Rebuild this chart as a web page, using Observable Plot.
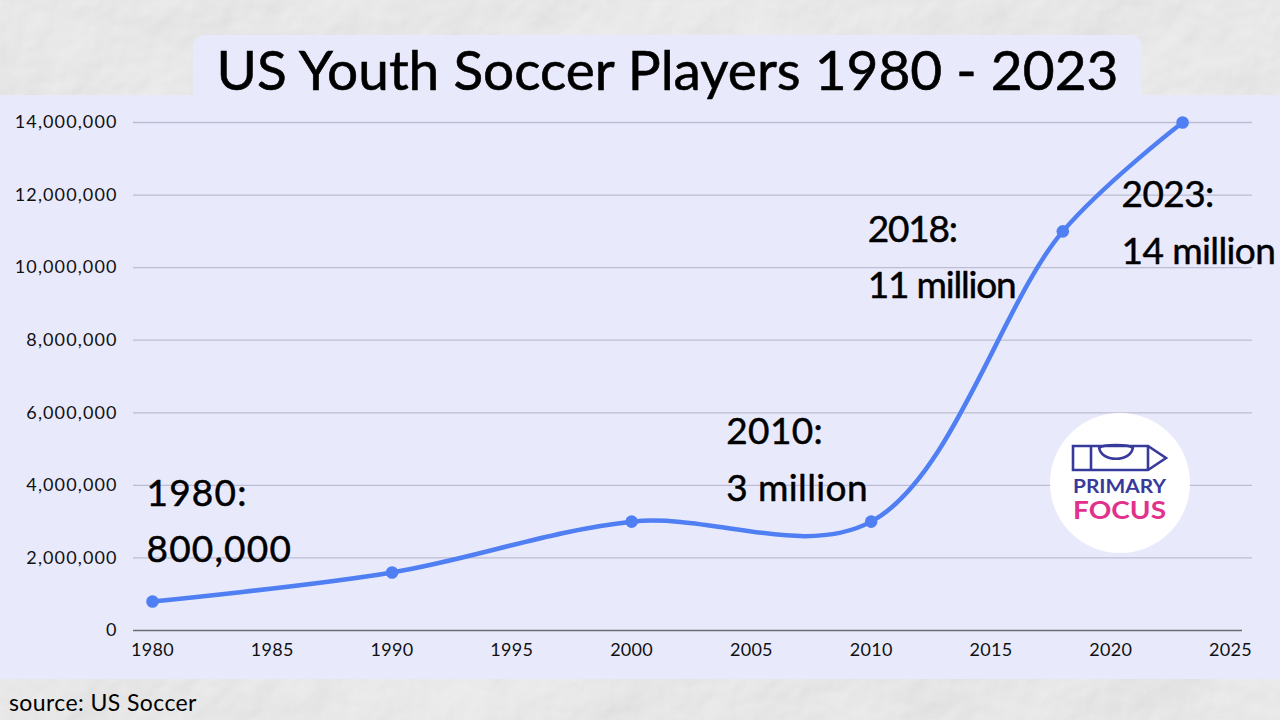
<!DOCTYPE html>
<html>
<head>
<meta charset="utf-8">
<script src="https://cdn.jsdelivr.net/npm/d3@7"></script>
<script src="https://cdn.jsdelivr.net/npm/@observablehq/plot@0.6"></script>
<style>
  html, body { margin: 0; padding: 0; width: 1280px; height: 720px; overflow: hidden; font-family: Lato, "Noto Sans", sans-serif; }
  #stage { position: relative; width: 1280px; height: 720px; background: #e6e6e6; }
  #bg { position: absolute; left: 0; top: 0; }
  #panel { position: absolute; left: 0; top: 95px; width: 1280px; height: 584px; background: #e8eafc; }
  #titlebox { position: absolute; left: 193px; top: 35px; width: 949px; height: 70px; background: #e8eafc; border-radius: 12px 12px 0 0; }
  #title { position: absolute; left: 193px; top: 37px; width: 949px; text-align: center; font-size: 55px; line-height: 64px; color: #000; white-space: nowrap; -webkit-text-stroke: 0.6px #000; }
  #chart { position: absolute; left: 0; top: 0; }
  #chart g[aria-label="y-axis tick label"] text { letter-spacing: 1.1px; }
  #chart g[aria-label="x-axis tick label"] text { letter-spacing: 0.3px; }
  #logo { position: absolute; left: 0; top: 0; pointer-events: none; }
  #source { position: absolute; left: 9px; top: 689px; font-size: 23px; line-height: 27px; color: #000; letter-spacing: 0.4px; }
</style>
</head>
<body>
<div id="stage">
  <svg id="bg" width="1280" height="720">
    <defs>
      <filter id="paper" x="0" y="0" width="100%" height="100%">
        <feTurbulence type="fractalNoise" baseFrequency="0.006" numOctaves="5" seed="7" result="n"/>
        <feDiffuseLighting in="n" lighting-color="#f7f7f7" surfaceScale="5" result="l">
          <feDistantLight azimuth="60" elevation="62"/>
        </feDiffuseLighting>
      </filter>
      <filter id="grain" x="0" y="0" width="100%" height="100%">
        <feTurbulence type="fractalNoise" baseFrequency="0.9" numOctaves="2" seed="2"/>
        <feColorMatrix type="matrix" values="0 0 0 0 0.55  0 0 0 0 0.55  0 0 0 0 0.55  0 0 0 0.16 0"/>
      </filter>
    </defs>
    <rect width="1280" height="720" filter="url(#paper)"/>
    <rect width="1280" height="720" filter="url(#grain)"/>
  </svg>
  <div id="panel"></div>
  <div id="titlebox"></div>
  <div id="title">US Youth Soccer Players 1980 - 2023</div>
  <div id="chart"></div>
  <svg id="logo" width="1280" height="720">
    <circle cx="1120" cy="483" r="70" fill="#ffffff"/>
    <g fill="none" stroke="#373a9b" stroke-width="2.6" stroke-linejoin="miter">
      <path d="M1073 446 H1148 L1166 458 L1148 470 H1073 Z"/>
      <line x1="1091" y1="446" x2="1091" y2="470"/>
      <line x1="1148" y1="446" x2="1148" y2="470"/>
      <path d="M1099 446 C1099 463 1133 463 1133 446"/>
      <path d="M1099 448 C1103 444 1129 444 1133 448"/>
    </g>
    <text x="1073" y="493" font-family="Lato, sans-serif" font-weight="700" font-size="18" fill="#373a9b" textLength="93" lengthAdjust="spacingAndGlyphs">PRIMARY</text>
    <text x="1073" y="519" font-family="Lato, sans-serif" font-weight="700" font-size="24" fill="#e2318c" textLength="93" lengthAdjust="spacingAndGlyphs">FOCUS</text>
  </svg>
  <div id="source">source: US Soccer</div>
</div>
<script>
// ---- data ----
const years = [1980, 1990, 2000, 2010, 2018, 2023];
const players = [800000, 1600000, 3000000, 3000000, 11000000, 14000000];
const labelYear = ["1980:", null, null, "2010:", "2018:", "2023:"];
const labelValue = ["800,000", null, null, "3 million", "11 million", "14 million"];
const xTicks = [1980, 1985, 1990, 1995, 2000, 2005, 2010, 2015, 2020, 2025];
const yTicks = [0, 2000000, 4000000, 6000000, 8000000, 10000000, 12000000, 14000000];

const data = years.map((year, i) => ({
  year, players: players[i], top: labelYear[i], bottom: labelValue[i]
}));

// per-annotation text offsets and letter spacing (style only)
const annotOffsets = {1980: [-6, -39], 2010: [-145, -21], 2018: [-195, 67], 2023: [-61, 141]};
const annotSpacing = {1980: 1.2, 2010: 0.4, 2018: -1.2, 2023: -0.6};

const annotMarks = data.filter(d => d.top).map(d =>
  Plot.text([d], {
    x: "year", y: "players",
    text: r => `${r.top}\n${r.bottom}`,
    textAnchor: "start", lineAnchor: "bottom", lineHeight: 1.52,
    fontSize: 37, fill: "#000", stroke: "#000", strokeWidth: 0.5,
    dx: annotOffsets[d.year][0], dy: annotOffsets[d.year][1],
    className: "annot-" + d.year
  })
);

const chart = Plot.plot({
  width: 1280,
  height: 720,
  marginLeft: 152,
  marginRight: 50,
  marginTop: 122,
  marginBottom: 90,
  style: { background: "transparent", fontFamily: "Lato, 'Noto Sans', sans-serif", color: "#111" },
  x: { domain: [1980, 2025] },
  y: { domain: [0, 14000000] },
  marks: [
    Plot.ruleY(yTicks.filter(d => d > 0), { stroke: "#bcbdd2", strokeWidth: 1.3, insetLeft: -19, insetRight: -22 }),
    Plot.ruleY([0], { stroke: "#6b6b72", strokeWidth: 1.5, insetLeft: -19, insetRight: -12 }),
    Plot.axisY({ ticks: yTicks, tickSize: 0, tickPadding: 35, tickFormat: d3.format(","), fontSize: 18, label: null, color: "#111" }),
    Plot.axisX({ ticks: xTicks, tickSize: 0, tickPadding: 13, tickFormat: d => String(d), fontSize: 18, label: null, color: "#111" }),
    Plot.line(data, { x: "year", y: "players", curve: "catmull-rom", stroke: "#4f7ff2", strokeWidth: 4.5 }),
    Plot.dot(data, { x: "year", y: "players", r: 6.3, fill: "#4f7ff2" }),
    ...annotMarks
  ]
});
for (const [yr, sp] of Object.entries(annotSpacing)) {
  chart.querySelectorAll(`.annot-${yr} text`).forEach(t => t.setAttribute("letter-spacing", sp));
}
document.getElementById("chart").appendChild(chart);
</script>
</body>
</html>
